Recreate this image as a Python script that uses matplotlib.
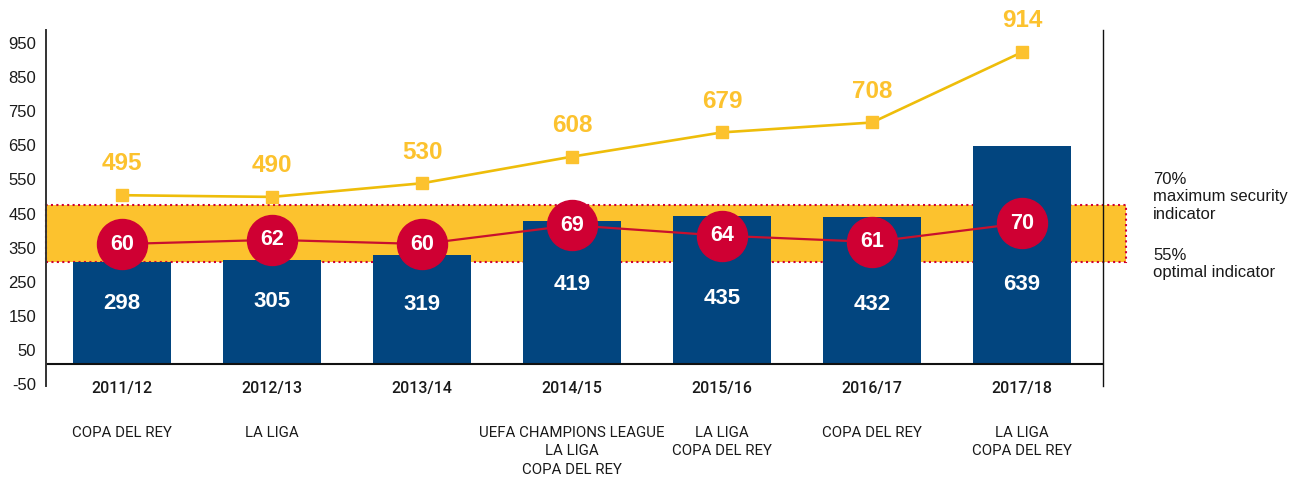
import matplotlib.pyplot as plt
from matplotlib.patches import Rectangle
from matplotlib.transforms import blended_transform_factory, ScaledTranslation

seasons = ["2011/12", "2012/13", "2013/14", "2014/15", "2015/16", "2016/17", "2017/18"]
titles = ["COPA DEL REY", "LA LIGA", "", "UEFA CHAMPIONS LEAGUE\nLA LIGA\nCOPA DEL REY",
          "LA LIGA\nCOPA DEL REY", "COPA DEL REY", "LA LIGA\nCOPA DEL REY"]
bar_values = [298, 305, 319, 419, 435, 432, 639]
line_values = [495, 490, 530, 608, 679, 708, 914]
ratio_values = [60, 62, 60, 69, 64, 61, 70]
y_ticks = [-50, 50, 150, 250, 350, 450, 550, 650, 750, 850, 950]

# layout
band_low, band_high = 300, 466
bar_label_y = [179, 185, 176, 234, 193, 176, 234]

BLUE = "#02457f"
YELLOW = "#fcc22e"
YELLOW_LINE = "#eebd0a"
RED = "#cf0033"
TXT = "#1a1a1a"
FONT = "Liberation Sans"
NARROW = "Roboto"

fig = plt.figure(figsize=(13.12, 4.84), dpi=100)
ax = fig.add_axes([46 / 1312, 98 / 484, 1057 / 1312, 356 / 484])
x = list(range(len(seasons)))
ax.set_xlim(-0.507, 6.54)
ax.set_ylim(-64, 979)

# indicator band, reaching past the right spine
ax.add_patch(Rectangle((-0.507, band_low), 7.2, band_high - band_low,
                       facecolor=YELLOW, edgecolor="none", zorder=1, clip_on=False))
ax.add_patch(Rectangle((-0.507, band_low), 7.2, band_high - band_low,
                       fill=False, edgecolor=RED, lw=1.5, linestyle=(0, (1, 1.6)),
                       zorder=1.5, clip_on=False))

ax.bar(x, bar_values, width=0.653, color=BLUE, zorder=2)
for i, v in enumerate(bar_values):
    ax.text(i, bar_label_y[i], str(v), ha="center", va="center", color="white",
            fontsize=16, fontweight="bold", family=FONT, zorder=3)

ax.plot(x, line_values, color=YELLOW_LINE, lw=1.9, marker="s", markersize=9,
        markerfacecolor=YELLOW, markeredgecolor=YELLOW, zorder=4)
for i, v in enumerate(line_values):
    ax.annotate(str(v), (i, v), xytext=(0, 22.5), textcoords="offset points",
                ha="center", va="center", color=YELLOW, fontsize=17.5,
                fontweight="bold", family=FONT, annotation_clip=False)

ax.axhline(0, color="#111111", lw=1.5, zorder=2.5)

# percentages on their own hidden scale
ax2 = ax.twinx()
ax2.set_ylim((-64 + 14) / 6.1, (979 + 14) / 6.1)
ax2.axis("off")
ax2.plot(x, ratio_values, color="#c8102e", lw=1.6, marker="o", markersize=36,
         markerfacecolor=RED, markeredgecolor=RED, zorder=5)
for i, v in enumerate(ratio_values):
    ax2.text(i, v, str(v), ha="center", va="center", color="white",
             fontsize=15.5, fontweight="bold", family=FONT, zorder=6)

for side in ["top", "bottom"]:
    ax.spines[side].set_visible(False)
ax.spines["left"].set_color("#333333")
ax.spines["left"].set_linewidth(1.4)
ax.spines["right"].set_color("#111111")
ax.spines["right"].set_linewidth(1.0)

ax.set_yticks(y_ticks)
ax.set_yticklabels([str(t) for t in y_ticks], family=FONT, fontsize=12, color=TXT)
ax.tick_params(axis="y", length=0, pad=7)
shift = ScaledTranslation(0, -3 / 100, fig.dpi_scale_trans)
for lab in ax.get_yticklabels():
    lab.set_transform(lab.get_transform() + shift)
ax.set_xticks([])

trans = blended_transform_factory(ax.transData, ax.transAxes)
for i, s in enumerate(seasons):
    ax.text(i, -0.008, s, transform=trans, ha="center", va="center",
            fontsize=11.5, fontweight="medium", family=NARROW, color=TXT)
    ax.text(i, -0.112, titles[i], transform=trans, ha="center", va="top",
            fontsize=10.8, family=NARROW, color=TXT, linespacing=1.42)

fig.text(1153 / 1312, 1 - 172 / 484, "70%\nmaximum security\nindicator", ha="left",
         va="top", fontsize=12, family=FONT, color=TXT, linespacing=1.2)
fig.text(1153 / 1312, 1 - 248 / 484, "55%\noptimal indicator", ha="left",
         va="top", fontsize=12, family=FONT, color=TXT, linespacing=1.2)

fig.savefig("out.png", dpi=100)
